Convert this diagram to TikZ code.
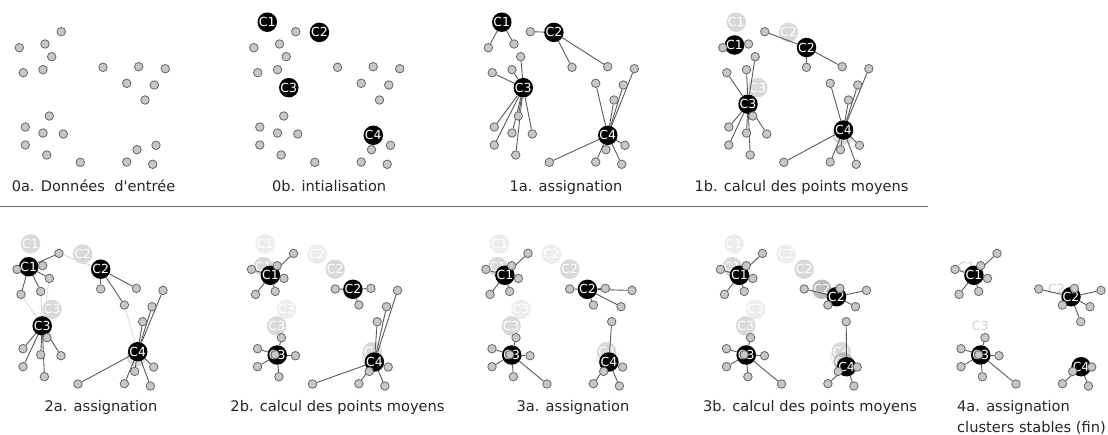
\documentclass[tikz,border=0pt]{standalone}
\usepackage{fontspec}
\setmainfont{DejaVu Sans}[Ligatures=TeXOff]
\usetikzlibrary{backgrounds}

\pgfdeclarelayer{ghosts}
\pgfdeclarelayer{links}
\pgfdeclarelayer{front}
\pgfsetlayers{ghosts,links,main,front}

\tikzstyle{point}=[circle, draw=black!60, fill=black!22, line width=0.8pt, inner sep=0pt, minimum size=8.5pt]
\tikzstyle{centre}=[circle, fill=black, text=white, inner sep=0pt, minimum size=19.5pt, font=\fontsize{12.5}{12.5}\selectfont]
\tikzstyle{ghost}=[centre, fill=black!15]
\tikzstyle{hollow}=[centre, fill=none, text=black!18]
\tikzstyle{link}=[draw=black!65, line width=0.9pt]
\tikzstyle{oldlink}=[draw=black!14, line width=0.9pt]
\tikzstyle{caption}=[anchor=base, inner sep=0pt, text=black!85, font=\fontsize{14.6}{17}\selectfont]

% points of one panel (local coordinates)
\def\datapoints{1/61.3/31.7, 2/19.3/47.7, 3/45/44, 4/51.7/56.7, 5/23.3/72.7, 6/43/69.7,
  7/103/67.3, 8/138.7/66.7, 9/165.3/68.7, 10/126.7/83.3, 11/154.3/85, 12/145/100,
  13/49.3/116, 14/25.3/127, 15/43/133, 16/63.3/134, 17/25.3/145, 18/46.7/155,
  19/80.3/162.3, 20/137/149.7, 21/156/145.3, 22/126.7/162, 23/152.7/164.3}

% centres after each step
\def\iterzero{1/32.8/22.2, 2/84.9/32.4, 3/54.3/87.7, 4/138.8/135.3}
\def\iterone{1/31/45, 2/103/47.5, 3/44.5/104.2, 4/140/130}
\def\itertwo{1/38.2/53.6, 2/120.7/67.6, 3/45/133.3, 4/142.2/140.3}
\def\iterthree{1/38.2/53.6, 2/135.3/75, 3/45/133.3, 4/145.4/145}

% centre/point assignments
\def\assignzero{1/2,1/3,2/1,2/7,2/8,3/4,3/5,3/6,3/13,3/14,3/15,3/16,3/17,3/18,
  4/9,4/10,4/11,4/12,4/19,4/20,4/21,4/22,4/23}
\def\assignone{1/1,1/2,1/3,1/4,1/5,1/6,2/7,2/8,2/10,3/13,3/14,3/15,3/16,3/17,3/18,
  4/9,4/11,4/12,4/19,4/20,4/21,4/22,4/23}
\def\assigntwo{1/1,1/2,1/3,1/4,1/5,1/6,2/7,2/8,2/9,2/10,2/11,3/13,3/14,3/15,3/16,3/17,3/18,3/19,
  4/12,4/20,4/21,4/22,4/23}
\def\assignthree{1/1,1/2,1/3,1/4,1/5,1/6,2/7,2/8,2/9,2/10,2/11,2/12,3/13,3/14,3/15,3/16,3/17,3/18,3/19,
  4/20,4/21,4/22,4/23}

\newcommand{\kdata}[1]{%
  \begin{pgfonlayer}{front}
    \foreach \i/\x/\y in \datapoints
      \node[point] (#1-p\i) at (\x,\y) {};
  \end{pgfonlayer}}
\newcommand{\kcentres}[2]{%
  \foreach \c/\x/\y in #2
    \node[centre] (#1-c\c) at (\x,\y) {C\c};}
\newcommand{\kghosts}[3]{%
  \begin{pgfonlayer}{ghosts}
    \foreach \c/\x/\y in #2
      \node[#3] (#1-c\c) at (\x,\y) {C\c};
  \end{pgfonlayer}}
\newcommand{\klinks}[3]{%
  \begin{pgfonlayer}{links}
    \foreach \c/\p in #2
      \draw[#3] (#1-c\c) -- (#1-p\p);
  \end{pgfonlayer}}

\begin{document}
\begin{tikzpicture}[x=1pt, y=-1pt]
  \useasboundingbox (0,0) rectangle (1108,434);

  % top row
  \begin{scope}
    \kdata{init}
  \end{scope}
  \begin{scope}[shift={(234.5,0)}]
    \kdata{seed}
    \kcentres{seed}{\iterzero}
  \end{scope}
  \begin{scope}[shift={(469,0)}]
    \kdata{asgA}
    \kcentres{asgA}{\iterzero}
    \klinks{asgA}{\assignzero}{link}
  \end{scope}
  \begin{scope}[shift={(703.5,0)}]
    \kdata{avgA}
    \kghosts{avgA-old}{\iterzero}{ghost}
    \kcentres{avgA}{\iterone}
    \klinks{avgA}{\assignzero}{link}
  \end{scope}

  \draw[black!60, line width=1pt] (0,206) -- (928,206);

  % bottom row
  \begin{scope}[shift={(-2.3,221.7)}]
    \kdata{asgB}
    \kghosts{asgB-old}{\iterzero}{ghost}
    \kcentres{asgB}{\iterone}
    \klinks{asgB}{{2/1,3/4,3/5,3/6,4/10}}{oldlink}
    \klinks{asgB}{\assignone}{link}
  \end{scope}
  \begin{scope}[shift={(232.2,221.7)}]
    \kdata{avgB}
    \kghosts{avgB-old}{\iterzero}{ghost, fill=black!7}
    \kghosts{avgB-prev}{\iterone}{ghost}
    \kcentres{avgB}{\itertwo}
    \klinks{avgB}{\assignone}{link}
  \end{scope}
  \begin{scope}[shift={(466.7,221.7)}]
    \kdata{asgC}
    \kghosts{asgC-old}{\iterzero}{ghost, fill=black!7}
    \kghosts{asgC-prev}{\iterone}{ghost}
    \kcentres{asgC}{\itertwo}
    \klinks{asgC}{\assigntwo}{link}
  \end{scope}
  \begin{scope}[shift={(701.2,221.7)}]
    \kdata{avgC}
    \kghosts{avgC-old}{\iterzero}{ghost, fill=black!7}
    \kghosts{avgC-prev}{\iterone}{ghost}
    \kghosts{avgC-last}{\itertwo}{ghost, fill=black!27}
    \kcentres{avgC}{\iterthree}
    \klinks{avgC}{\assigntwo}{link}
  \end{scope}
  \begin{scope}[shift={(935.7,221.7)}]
    \kdata{asgD}
    \kghosts{asgD-old}{{1/31/45, 2/120.7/67.6, 3/44.5/104.2}}{hollow}
    \kcentres{asgD}{\iterthree}
    \klinks{asgD}{\assignthree}{link}
  \end{scope}

  % captions
  \node[caption] (cap0a) at (93.5,191.5)  {0a. Données~~d'entrée};
  \node[caption] (cap0b) at (329.2,191.5) {0b. intialisation};
  \node[caption] (cap1a) at (566,191.5)   {1a. assignation};
  \node[caption] (cap1b) at (801.5,191.5) {1b. calcul des points moyens};
  \node[caption] (cap2a) at (101,411)     {2a. assignation};
  \node[caption] (cap2b) at (337.5,411)   {2b. calcul des points moyens};
  \node[caption] (cap3a) at (573,411)     {3a. assignation};
  \node[caption] (cap3b) at (810,411)     {3b. calcul des points moyens};
  \node[caption, anchor=base west] (cap4a) at (957,411)   {4a. assignation};
  \node[caption, anchor=base west] (cap4b) at (957,432.5) {clusters stables (fin)};
\end{tikzpicture}
\end{document}
